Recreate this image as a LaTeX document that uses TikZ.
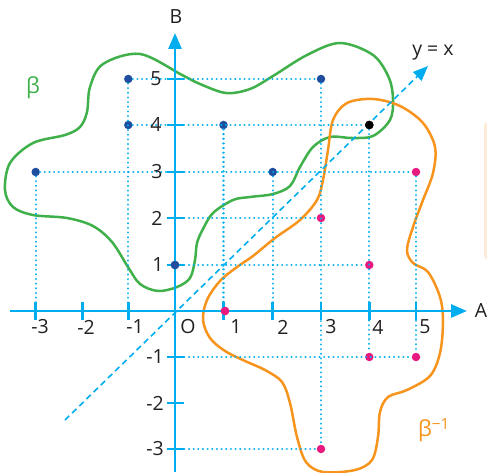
\documentclass[tikz,border=0pt]{standalone}
\usepackage{fontspec}
\setmainfont{Open Sans}
\usetikzlibrary{arrows.meta}
\definecolor{cy}{HTML}{00AEEF}
\definecolor{dblue}{HTML}{1F4E9E}
\definecolor{pinkc}{HTML}{E8197F}
\definecolor{greenc}{HTML}{3FB04A}
\definecolor{orangec}{HTML}{F7941D}
\definecolor{txt}{HTML}{231F20}
\definecolor{beige}{HTML}{FDEBD7}
\begin{document}
\begin{tikzpicture}[x=1pt,y=-1pt,
  axis/.style={cy,line width=2.8pt},
  tickmark/.style={cy,line width=2.8pt},
  guide/.style={cy,line width=2.3pt,line cap=round,dash pattern=on 0.01pt off 4.65pt},
  bdot/.style={circle,fill=dblue,inner sep=0pt,minimum size=8.5pt},
  kdot/.style={circle,fill=black,inner sep=0pt,minimum size=8.5pt},
  pdot/.style={circle,fill=pinkc,inner sep=0pt,minimum size=8.5pt},
  lab/.style={text=txt,font=\fontsize{19.5}{21}\selectfont,inner sep=0pt},
  curve/.style={line width=2.5pt}]
\useasboundingbox (0,0) rectangle (487,473);
% faint box at right edge
\fill[beige,rounded corners=4pt] (484,122) rectangle (500,260);

% curves
\draw[curve,greenc] plot[smooth cycle,tension=0.55] coordinates {
(250,197) (273,194) (290,186) (300,167) (313,147) (330,137) (352,138) (373,136) (390,120) (393,100) (389,78) (373,55) (340,43) (307,55) (273,76) (250,89) (226,93) (200,84) (182,75) (140,54) (103,64) (90,87) (87,112) (80,127) (65,135) (33,143) (10,163) (5,190) (13,207) (33,215) (67,218) (93,226) (112,242) (128,267) (140,284) (158,291) (177,287) (190,278) (195,260) (197,243) (203,229) (213,213) (233,200)};
\draw[curve,orangec] plot[smooth cycle,tension=0.55] coordinates {
(300,220) (317,200) (323,180) (328,150) (333,120) (347,103) (373,99) (400,106) (423,123) (435,147) (433,173) (423,200) (413,227) (407,250) (413,263) (428,272) (440,297) (443,322) (440,353) (430,376) (407,390) (388,397) (380,412) (378,437) (372,460) (355,470) (323,472) (306,462) (297,437) (290,403) (282,382) (265,370) (245,361) (225,351) (210,338) (203,320) (207,300) (220,281) (237,267) (253,256) (275,238)};

% point nodes
\node[bdot] (b1) at (128.3,79) {};
\node[bdot] (b2) at (128.3,125) {};
\node[bdot] (b3) at (223.5,125) {};
\node[bdot] (b4) at (35.7,172) {};
\node[bdot] (b5) at (272.7,172) {};
\node[bdot] (b6) at (321,79) {};
\node[bdot] (b7) at (175,265) {};
\node[kdot] (k1) at (369.3,125) {};
\node[pdot] (q1) at (416,172) {};
\node[pdot] (q2) at (321,218) {};
\node[pdot] (q3) at (369.3,265) {};
\node[pdot] (q4) at (225,311) {};
\node[pdot] (q5) at (369.3,357) {};
\node[pdot] (q6) at (416,357) {};
\node[pdot] (q7) at (321,449) {};

% axis feet
\coordinate (ya2) at (175,218);
\coordinate (ya1) at (175,265);
\coordinate (yam1) at (175,357);
\coordinate (yam3) at (175,449);
\coordinate (xam3) at (35.7,311);
\coordinate (xam1) at (128.3,311);
\coordinate (xa1) at (223.5,311);
\coordinate (xa2) at (272.7,311);

% guide lines
\draw[guide] (b1) -- (b6);
\draw[guide] (b2) -- (k1);
\draw[guide] (b4) -- (q1);
\draw[guide] (ya2) -- (q2);
\draw[guide] (ya1) -- (q3);
\draw[guide] (yam1) -- (q6);
\draw[guide] (yam3) -- (q7);
\draw[guide] (b4) -- (xam3);
\draw[guide] (b1) -- (xam1);
\draw[guide] (b3) -- (xa1);
\draw[guide] (b5) -- (xa2);
\draw[guide] (b6) -- (q7);
\draw[guide] (k1) -- (q5);
\draw[guide] (q1) -- (q6);

% y = x line
\coordinate (d0) at (65,420);
\coordinate (d1) at (428,66);
\draw[cy,line width=1.6pt,dash pattern=on 6pt off 4pt,-{Triangle[length=15pt,width=12pt]}] (d0) -- (d1);

% axes
\coordinate (xs) at (10,311);
\coordinate (xe) at (467,311);
\coordinate (ys) at (175,472);
\coordinate (ye) at (175,33);
\draw[axis,-{Triangle[length=16pt,width=13pt]}] (xs) -- (xe);
\draw[axis,-{Triangle[length=16pt,width=13pt]}] (ys) -- (ye);

% ticks
\foreach \t in {35.7,82.3,128.3,223.5,272.7,321,369.3,416}
  \draw[tickmark] (\t,302) -- (\t,320);
\foreach \t in {79,125,172,218,265,357,403,449}
  \draw[tickmark] (167,\t) -- (184,\t);

% redraw dots on top of lines
\node[pdot] at (q4) {};
\node[bdot] at (b7) {};
\node[kdot] at (k1) {};

% tick labels
\node[lab] (lxm3) at (40,327) {-3};
\node[lab] (lxm2) at (86,327) {-2};
\node[lab] (lxm1) at (135,327) {-1};
\node[lab] (lo) at (188,327) {O};
\node[lab] (lx1) at (236,327) {1};
\node[lab] (lx2) at (283,327) {2};
\node[lab] (lx3) at (331,327) {3};
\node[lab] (lx4) at (378,327) {4};
\node[lab] (lx5) at (425,327) {5};
\node[lab] (ly5) at (156,79) {5};
\node[lab] (ly4) at (156,125) {4};
\node[lab] (ly3) at (157,172) {3};
\node[lab] (ly2) at (157,218) {2};
\node[lab] (ly1) at (158,265) {1};
\node[lab] (lym1) at (155,357) {-1};
\node[lab] (lym2) at (155,403) {-2};
\node[lab] (lym3) at (155,449) {-3};

\node[lab] (la) at (481,311) {A};
\node[lab] (lb) at (176,17) {B};
\node[lab] (lyx) at (433,53) {y = x};
\node[lab,text=greenc,font=\fontsize{22}{23}\selectfont] (lbeta) at (33,88) {β};
\node[lab,text=orangec,font=\fontsize{22}{23}\selectfont] (lbinv) at (434,430) {β\textsuperscript{−1}};
\end{tikzpicture}
\end{document}
